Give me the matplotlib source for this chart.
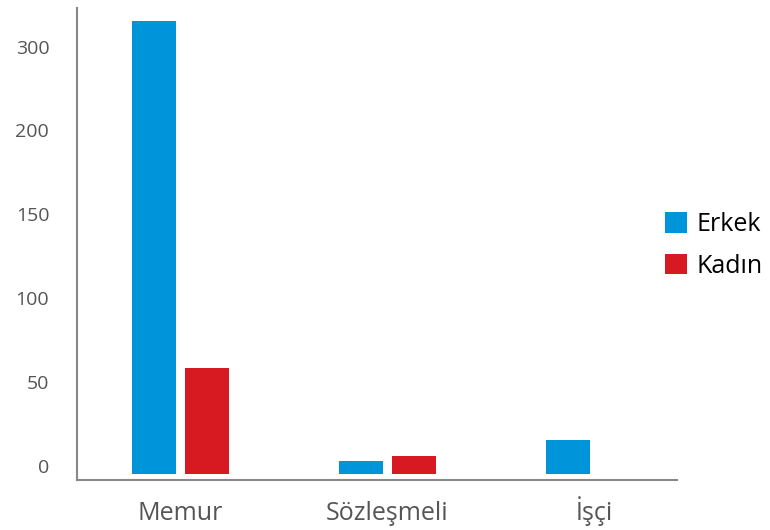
import matplotlib.pyplot as plt
import numpy as np

plt.rcParams['font.family'] = ['Open Sans', 'DejaVu Sans']

# data
categories = ['Memur', 'Sözleşmeli', 'İşçi']
erkek = [270, 8, 20]
kadin = [63, 11, 0]
tick_vals = [0, 50, 100, 150, 200, 250]
tick_labels = ['0', '50', '100', '150', '200', '300']

blue = '#0095DA'
red = '#D71A21'

fig = plt.figure(figsize=(7.7, 5.3), dpi=100)
ax = fig.add_axes([0.1, 0.0943, 0.7792, 0.8906])

x = np.arange(len(categories))
w = 0.2126
ax.bar(x - 0.128, erkek, w, color=blue, label='Erkek')
# no Kadın bar where value is 0
kx = [xi for xi, v in zip(x, kadin) if v > 0]
kv = [v for v in kadin if v > 0]
ax.bar(np.array(kx) + 0.128, kv, w, color=red, label='Kadın')

ax.set_xlim(-0.5, 2.399)
ax.set_ylim(-3.6, 278)

# tick labels sit a little above the bar baseline in the original
ax.set_yticks(np.array(tick_vals) + 5)
ax.set_yticklabels(tick_labels)
ax.set_xticks(x)
ax.set_xticklabels(categories, va='baseline')

ax.tick_params(axis='both', length=0, colors='#555555')
ax.tick_params(axis='y', labelsize=14, pad=20)
ax.tick_params(axis='x', labelsize=18, pad=28.5)

for s in ['top', 'right']:
    ax.spines[s].set_visible(False)
for s in ['left', 'bottom']:
    ax.spines[s].set_color('#888888')
    ax.spines[s].set_linewidth(1.5)

leg = ax.legend(loc='center left', bbox_to_anchor=(0.98, 0.497), frameon=False,
                fontsize=18, handlelength=0.88, handleheight=0.88,
                handletextpad=0.4, labelspacing=0.65,
                borderaxespad=0, borderpad=0)

fig.savefig('out.png', dpi=100)
